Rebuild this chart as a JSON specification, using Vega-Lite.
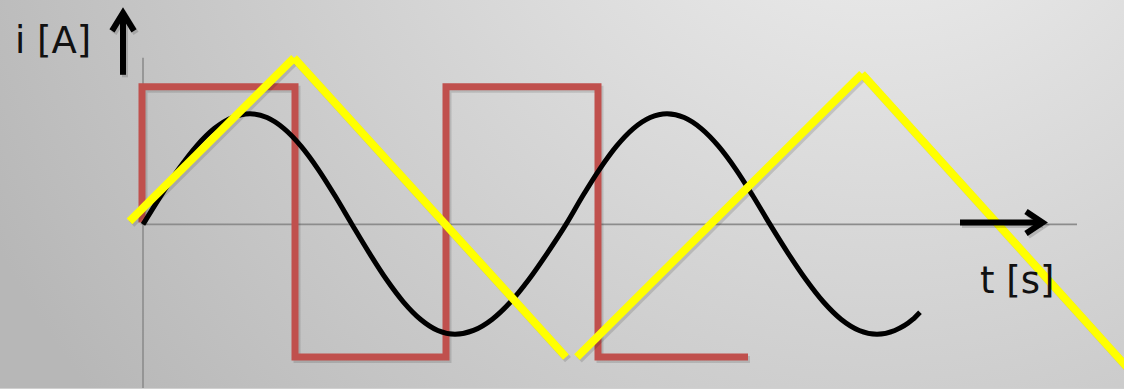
{
  "$schema": "https://vega.github.io/schema/vega-lite/v6.json",
  "width": 1124,
  "height": 389,
  "autosize": {"type": "fit", "contains": "padding"},
  "padding": 0,
  "background": "#d0d0d0",
  "config": {"view": {"stroke": null}},
  "datasets": {
    "frame": [{"t0": -1.43, "t1": 9.81, "i0": -1.64, "i1": 2.25}],
    "axes": [
      {"axis": "t", "t": 0, "t2": 9.34, "i": 0, "i2": 0},
      {"axis": "i", "t": 0, "t2": 0, "i": 1.67, "i2": -1.64}
    ],
    "square": [
      {"k": 0, "t": -0.01, "i": 0.02},
      {"k": 1, "t": -0.01, "i": 1.38},
      {"k": 2, "t": 1.52, "i": 1.38},
      {"k": 3, "t": 1.52, "i": -1.33},
      {"k": 4, "t": 3.03, "i": -1.33},
      {"k": 5, "t": 3.03, "i": 1.38},
      {"k": 6, "t": 4.55, "i": 1.38},
      {"k": 7, "t": 4.55, "i": -1.33},
      {"k": 8, "t": 6.05, "i": -1.33}
    ],
    "sine": [
      {"t": 0, "i": 0}, {"t": 0.178, "i": 0.287}, {"t": 0.357, "i": 0.555}, {"t": 0.535, "i": 0.785},
      {"t": 0.713, "i": 0.961}, {"t": 0.892, "i": 1.072}, {"t": 1.07, "i": 1.11},
      {"t": 1.24, "i": 1.072}, {"t": 1.41, "i": 0.961}, {"t": 1.58, "i": 0.785}, {"t": 1.75, "i": 0.555},
      {"t": 1.92, "i": 0.287}, {"t": 2.09, "i": 0},
      {"t": 2.262, "i": -0.285}, {"t": 2.433, "i": -0.55}, {"t": 2.605, "i": -0.778}, {"t": 2.777, "i": -0.953},
      {"t": 2.948, "i": -1.063}, {"t": 3.12, "i": -1.1},
      {"t": 3.305, "i": -1.063}, {"t": 3.49, "i": -0.953}, {"t": 3.675, "i": -0.778}, {"t": 3.86, "i": -0.55},
      {"t": 4.045, "i": -0.285}, {"t": 4.23, "i": 0},
      {"t": 4.398, "i": 0.287}, {"t": 4.567, "i": 0.555}, {"t": 4.735, "i": 0.785}, {"t": 4.903, "i": 0.961},
      {"t": 5.072, "i": 1.072}, {"t": 5.24, "i": 1.11},
      {"t": 5.412, "i": 1.072}, {"t": 5.583, "i": 0.961}, {"t": 5.755, "i": 0.785}, {"t": 5.927, "i": 0.555},
      {"t": 6.098, "i": 0.287}, {"t": 6.27, "i": 0},
      {"t": 6.448, "i": -0.285}, {"t": 6.627, "i": -0.55}, {"t": 6.805, "i": -0.778}, {"t": 6.983, "i": -0.953},
      {"t": 7.162, "i": -1.063}, {"t": 7.34, "i": -1.1},
      {"t": 7.518, "i": -1.063}, {"t": 7.697, "i": -0.953}, {"t": 7.77, "i": -0.88}
    ],
    "triangle": [
      {"seg": 1, "k": 0, "t": -0.135, "i": 0.03},
      {"seg": 1, "k": 1, "t": 1.51, "i": 1.67},
      {"seg": 2, "k": 0, "t": 1.51, "i": 1.67},
      {"seg": 2, "k": 1, "t": 4.23, "i": -1.33},
      {"seg": 3, "k": 0, "t": 4.34, "i": -1.33},
      {"seg": 3, "k": 1, "t": 7.19, "i": 1.51},
      {"seg": 4, "k": 0, "t": 7.19, "i": 1.51},
      {"seg": 4, "k": 1, "t": 9.92, "i": -1.52}
    ],
    "arrows": [
      {"part": "i-shaft", "k": 0, "t": -0.2, "i": 1.5},
      {"part": "i-shaft", "k": 1, "t": -0.2, "i": 2.1},
      {"part": "i-head", "k": 0, "t": -0.31, "i": 1.94},
      {"part": "i-head", "k": 1, "t": -0.2, "i": 2.12},
      {"part": "i-head", "k": 2, "t": -0.09, "i": 1.94},
      {"part": "t-shaft", "k": 0, "t": 8.17, "i": 0.02},
      {"part": "t-shaft", "k": 1, "t": 8.98, "i": 0.02},
      {"part": "t-head", "k": 0, "t": 8.83, "i": 0.13},
      {"part": "t-head", "k": 1, "t": 8.995, "i": 0.02},
      {"part": "t-head", "k": 2, "t": 8.83, "i": -0.09}
    ],
    "labels": [
      {"text": "i [A]", "t": -1.28, "i": 1.72},
      {"text": "t [s]", "t": 8.37, "i": -0.69}
    ]
  },
  "encoding": {
    "x": {"field": "t", "type": "quantitative", "scale": {"domain": [-1.43, 9.81], "nice": false, "zero": false}, "axis": null},
    "y": {"field": "i", "type": "quantitative", "scale": {"domain": [-1.64, 2.25], "nice": false, "zero": false}, "axis": null}
  },
  "layer": [
    {
      "data": {"name": "frame"},
      "mark": {
        "type": "rect",
        "fill": {
          "gradient": "radial",
          "x1": 0.783, "y1": 0.13, "r1": 0,
          "x2": 0.783, "y2": 0.13, "r2": 0.89,
          "stops": [
            {"offset": 0, "color": "#f3f3f3"},
            {"offset": 1, "color": "#b7b7b7"}
          ]
        }
      },
      "encoding": {
        "x": {"field": "t0", "type": "quantitative"},
        "x2": {"field": "t1"},
        "y": {"field": "i0", "type": "quantitative"},
        "y2": {"field": "i1"}
      }
    },
    {
      "data": {"name": "axes"},
      "mark": {"type": "rule", "stroke": "#8c8c8c", "strokeWidth": 1.6},
      "encoding": {"x2": {"field": "t2"}, "y2": {"field": "i2"}}
    },
    {
      "data": {"name": "square"},
      "mark": {"type": "line", "stroke": "#000000", "opacity": 0.13, "strokeWidth": 7, "strokeJoin": "miter", "strokeCap": "butt", "xOffset": 2, "yOffset": 2.5},
      "encoding": {"order": {"field": "k"}}
    },
    {
      "data": {"name": "square"},
      "mark": {"type": "line", "stroke": "#c0504d", "strokeWidth": 7, "strokeJoin": "miter", "strokeCap": "butt"},
      "encoding": {"order": {"field": "k"}}
    },
    {
      "data": {"name": "sine"},
      "mark": {"type": "line", "stroke": "#000000", "strokeWidth": 5, "interpolate": "monotone", "strokeCap": "butt"},
      "encoding": {}
    },
    {
      "data": {"name": "triangle"},
      "mark": {"type": "line", "stroke": "#000000", "opacity": 0.13, "strokeWidth": 8, "strokeCap": "butt", "clip": true, "xOffset": 2, "yOffset": 2.5},
      "encoding": {"detail": {"field": "seg"}, "order": {"field": "k"}}
    },
    {
      "data": {"name": "triangle"},
      "mark": {"type": "line", "stroke": "#ffff00", "strokeWidth": 8, "strokeCap": "butt", "clip": true},
      "encoding": {"detail": {"field": "seg"}, "order": {"field": "k"}}
    },
    {
      "data": {"name": "arrows"},
      "mark": {"type": "line", "stroke": "#000000", "opacity": 0.15, "strokeWidth": 6, "strokeJoin": "miter", "strokeCap": "butt", "xOffset": 2, "yOffset": 2.5},
      "encoding": {"detail": {"field": "part"}, "order": {"field": "k"}}
    },
    {
      "data": {"name": "arrows"},
      "mark": {"type": "line", "stroke": "#000000", "strokeWidth": 6, "strokeJoin": "miter", "strokeCap": "butt"},
      "encoding": {"detail": {"field": "part"}, "order": {"field": "k"}}
    },
    {
      "data": {"name": "labels"},
      "mark": {"type": "text", "font": "DejaVu Sans", "fontSize": 37, "align": "left", "baseline": "alphabetic", "color": "#111111"},
      "encoding": {"text": {"field": "text"}}
    }
  ]
}
